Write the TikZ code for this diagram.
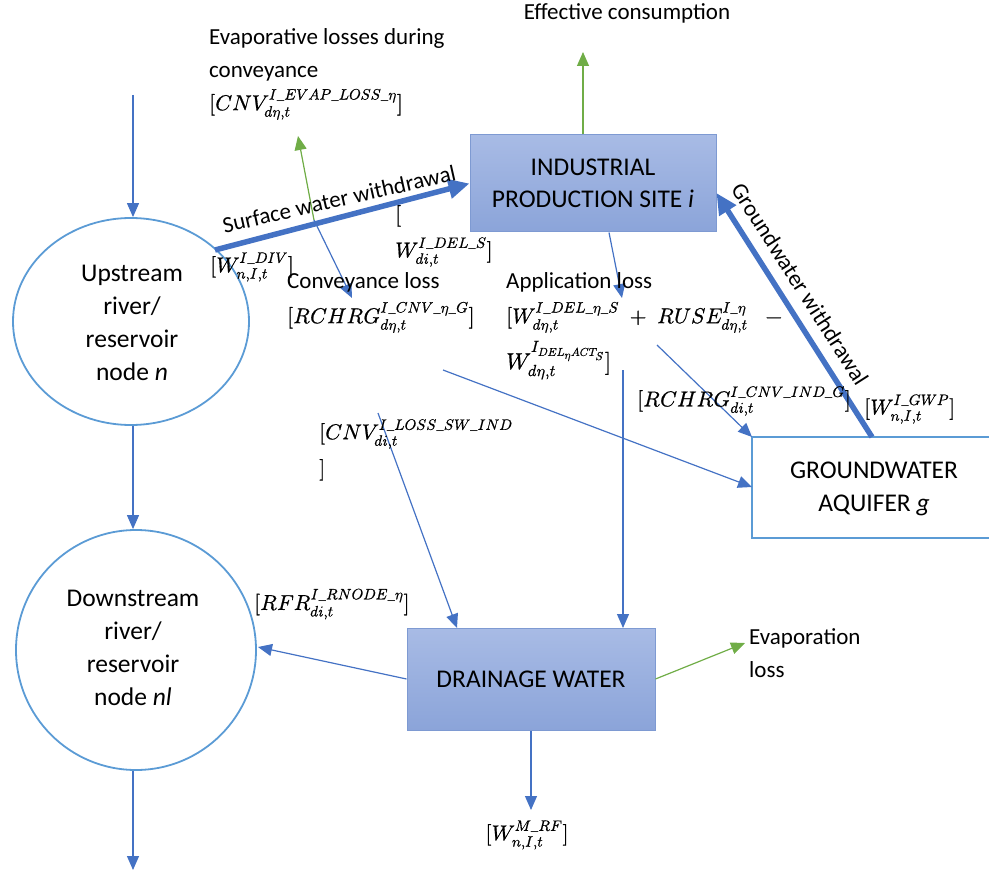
\documentclass[tikz,border=0pt]{standalone}
\usepackage{fontspec}
\usepackage{unicode-math}
\setmainfont{Carlito}
\setmathfont{latinmodern-math.otf}[FakeBold=0.8]
\usetikzlibrary{arrows.meta,shapes.geometric,calc}

\definecolor{flow}{HTML}{4472C4}
\definecolor{rim}{HTML}{5B9BD5}
\definecolor{evap}{HTML}{70AD47}
\definecolor{boxtop}{HTML}{A8BBE5}
\definecolor{boxbot}{HTML}{8BA4D9}
\definecolor{boxedge}{HTML}{7E9AD2}

\newcommand{\mathsize}{\fontsize{21.5}{36}\selectfont}
\tikzset{
  txt/.style={font=\fontsize{23}{33}\selectfont, inner sep=0pt, text=black},
  mtxt/.style={font=\mathsize, inner sep=0pt, text=black},
  bigtxt/.style={font=\fontsize{25.5}{33}\selectfont, inner sep=0pt, text=black, align=center},
  nodeoval/.style={ellipse, draw=rim, line width=1.8pt, inner sep=0pt},
  procbox/.style={rectangle, draw=boxedge, line width=1pt, top color=boxtop, bottom color=boxbot,
                  font=\fontsize{25.5}{32}\selectfont, align=center},
  thinflow/.style={draw=flow, line width=1.2pt, -{Triangle[length=14pt,width=12pt]}},
  thickflow/.style={draw=flow, line width=5.5pt, -{Triangle[length=21pt,width=19pt]}},
  evapflow/.style={draw=evap, line width=1.2pt, -{Triangle[length=14pt,width=12pt]}},
}

\begin{document}
\begin{tikzpicture}[x=1pt,y=-1pt]
\useasboundingbox (0,0) rectangle (989,880);

% river nodes
\node[nodeoval, minimum width=236pt, minimum height=207pt] (up) at (131,321.5) {};
\node[bigtxt] (uptxt) at (132,323) {Upstream\\river/\\reservoir\\node \textit{n}};
\node[nodeoval, minimum width=240pt, minimum height=240pt] (down) at (136,650) {};
\node[bigtxt] (downtxt) at (133,648) {Downstream\\river/\\reservoir\\node \textit{nl}};

% site, drainage and aquifer
\node[procbox, minimum width=246pt, minimum height=97pt] (ind) at (593,183.5) {INDUSTRIAL\\PRODUCTION SITE \textit{i}};
\node[procbox, minimum width=248pt, minimum height=102pt] (drain) at (531,679) {DRAINAGE WATER};
\draw[draw=rim, line width=1.8pt] (1000,437) -- (752,437) -- (752,538) -- (1000,538);
\coordinate (gwnw) at (752,437);
\coordinate (gwwest) at (752,487);
\coordinate (gwtop) at (872,437);
\node[bigtxt] (gw) at (874,489) {GROUNDWATER\\AQUIFER \textit{g}};

% free ends of the connectors
\coordinate (inflow) at (133,95);
\coordinate (outflow) at (133,870);
\coordinate (swstart) at (215,250);
\coordinate (swsplit) at (314,220);
\coordinate (evapend) at (298,136);
\coordinate (cnvend) at (352,298);
\coordinate (effend) at (583,52);
\coordinate (append) at (622,298);
\coordinate (rchstart) at (657,345);
\coordinate (cnvgstart) at (443,370);
\coordinate (appstart) at (623,370);
\coordinate (swlossstart) at (378,413);
\coordinate (drainnw) at (457,628);
\coordinate (draintop) at (623,628);
\coordinate (rfrend) at (258,647);
\coordinate (evlend) at (745,643);
\coordinate (mrfend) at (531,810);

% river flow
\draw[thinflow] (inflow) -- (up.north -| inflow);
\draw[thinflow] (up.south -| inflow) -- (down.north -| inflow);
\draw[thinflow] (down.south -| outflow) -- (outflow);

% withdrawals
\draw[thickflow] (swstart) -- (ind.west);
\draw[thickflow] (gwtop) -- ($(ind.east)+(0,9.5)$);

% losses along the way
\draw[evapflow] (swsplit) -- (evapend);
\draw[thinflow] (swsplit) -- (cnvend);
\draw[evapflow] ($(ind.north)+(-10,0)$) -- (effend);
\draw[thinflow] ($(ind.south)+(16,0)$) -- (append);
\draw[thinflow] (rchstart) -- (gwnw);
\draw[thinflow] (cnvgstart) -- (gwwest);
\draw[thinflow] (appstart) -- (draintop);
\draw[thinflow] (swlossstart) -- (drainnw);
\draw[thinflow] (drain.west) -- (rfrend);
\draw[evapflow] (drain.east) -- (evlend);
\draw[thinflow] (drain.south) -- (mrfend);

% labels
\node[txt] (effc) at (627,13) {Effective consumption};
\node[txt, anchor=north west, align=left] (evaptxt) at (209,28)
  {Evaporative losses during\\conveyance\\[0pt]\mathsize$[CNV_{d\eta,t}^{I\_EVAP\_LOSS\_\eta}]$};
\node[txt, rotate=12.8] (swtxt) at (339,199) {Surface water withdrawal};
\node[mtxt, anchor=west] (wdiv) at (210,267) {$[W_{n,I,t}^{I\_DIV}]$};
\node[mtxt, anchor=north west, align=left] (wdel) at (395,205) {$[$\\$W_{di,t}^{I\_DEL\_S}]$};
\node[txt, anchor=north west, align=left] (cnvtxt) at (287,272)
  {Conveyance loss\\[2pt]\mathsize$[RCHRG_{d\eta,t}^{I\_CNV\_\eta\_G}]$};
\node[txt, anchor=north west, align=left] (apptxt) at (506,272)
  {Application loss\\[2pt]\mathsize$[W_{d\eta,t}^{I\_DEL\_\eta\_S}\;+\;RUSE_{d\eta,t}^{I\_\eta}\;\;\;-$\\[7pt]$W_{d\eta,t}^{I_{DEL_{\eta}ACT_{S}}}]$};
\node[mtxt, anchor=west] (rchind) at (637,401) {$[RCHRG_{di,t}^{I\_CNV\_IND\_G}]$};
\node[mtxt, anchor=west] (wgwp) at (864,409) {$[W_{n,I,t}^{I\_GWP}]$};
\node[txt, rotate=-57.4] (gwtxt) at (800,284) {Groundwater withdrawal};
\node[mtxt, anchor=north west, align=left] (cnvsw) at (319,419) {$[CNV_{di,t}^{I\_LOSS\_SW\_IND}$\\$]$};
\node[mtxt, anchor=west] (rfr) at (254,604) {$[RFR_{di,t}^{I\_RNODE\_\eta}]$};
\node[txt, anchor=north west, align=left] (evl) at (749,628) {Evaporation\\loss};
\node[mtxt] (wmrf) at (527,835) {$[W_{n,I,t}^{M\_RF}]$};
\end{tikzpicture}
\end{document}
